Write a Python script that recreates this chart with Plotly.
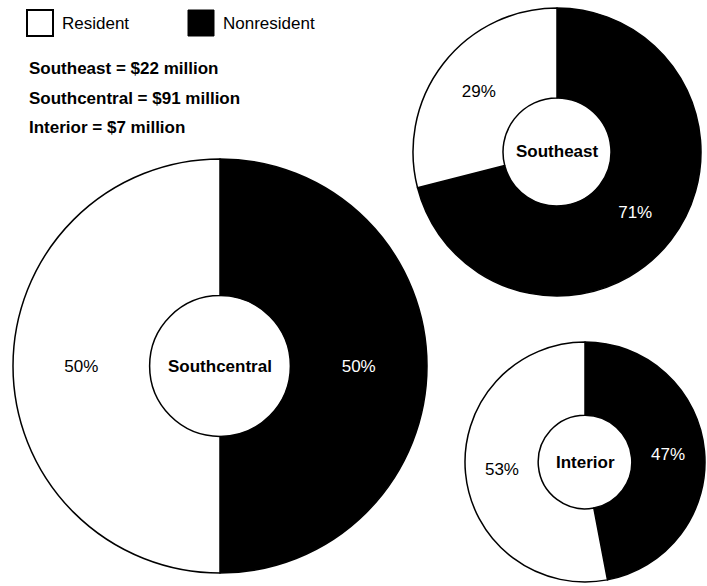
import plotly.graph_objects as go

W, H = 707, 586

# Data
categories = ["Nonresident", "Resident"]
regions = ["Southcentral", "Southeast", "Interior"]
southcentral_pct = [50, 50]
southeast_pct = [71, 29]
interior_pct = [47, 53]
totals_text = ["Southeast = $22 million", "Southcentral = $91 million", "Interior = $7 million"]

FONT = "Liberation Sans, Arial, Helvetica, sans-serif"
fill_colors = ["black", "white"]
text_colors = ["white", "black"]

# layout geometry (pixels): centre x, centre y, outer radius, hole fraction
geom = {
    "Southcentral": (220, 366, 207, 0.34),
    "Southeast": (557, 152, 144, 0.375),
    "Interior": (585, 462, 120, 0.39),
}

def domain(cx, cy, r):
    return dict(x=[(cx - r) / W, (cx + r) / W], y=[1 - (cy + r) / H, 1 - (cy - r) / H])

def px(x, y):
    return x / W, 1 - y / H

fig = go.Figure()
for name, vals in zip(regions, [southcentral_pct, southeast_pct, interior_pct]):
    cx, cy, r, hole = geom[name]
    fig.add_trace(go.Pie(
        labels=categories, values=vals, sort=False, direction="clockwise", rotation=0,
        hole=hole, domain=domain(cx, cy, r),
        marker=dict(colors=fill_colors, line=dict(color="black", width=1.5)),
        textinfo="percent", texttemplate="%{percent:.0%}", textposition="inside",
        insidetextorientation="horizontal",
        insidetextfont=dict(family=FONT, size=17, color=text_colors),
        showlegend=False, hoverinfo="label+percent",
    ))
    ax, ay = px(cx, cy)
    fig.add_annotation(x=ax, y=ay, xref="paper", yref="paper", xanchor="center", yanchor="middle",
                       text=name, showarrow=False,
                       font=dict(family=FONT, size=17, color="black", weight="bold"))

shapes = [
    dict(type="rect", xref="paper", yref="paper", x0=27 / W, x1=53 / W,
         y0=1 - 36 / H, y1=1 - 10 / H, line=dict(color="black", width=2), fillcolor="white"),
    dict(type="rect", xref="paper", yref="paper", x0=188 / W, x1=214 / W,
         y0=1 - 36 / H, y1=1 - 10 / H, line=dict(color="black", width=1), fillcolor="black"),
]
for label, x in [("Resident", 60), ("Nonresident", 221)]:
    ax, ay = px(x, 23)
    fig.add_annotation(x=ax, y=ay, xref="paper", yref="paper", text=label,
                       showarrow=False, xanchor="left", yanchor="middle",
                       font=dict(family=FONT, size=17, color="black"))
for i, t in enumerate(totals_text):
    ax, ay = px(27, 68.5 + 29.5 * i)
    fig.add_annotation(x=ax, y=ay, xref="paper", yref="paper", text=t,
                       showarrow=False, xanchor="left", yanchor="middle",
                       font=dict(family=FONT, size=17, color="black", weight="bold"))

fig.update_layout(width=W, height=H, margin=dict(l=0, r=0, t=0, b=0),
                  paper_bgcolor="white", plot_bgcolor="white", shapes=shapes)
fig.write_html("out.html", config={"displayModeBar": False},
               post_script="document.body.style.margin='0px';document.body.style.padding='0px';")
